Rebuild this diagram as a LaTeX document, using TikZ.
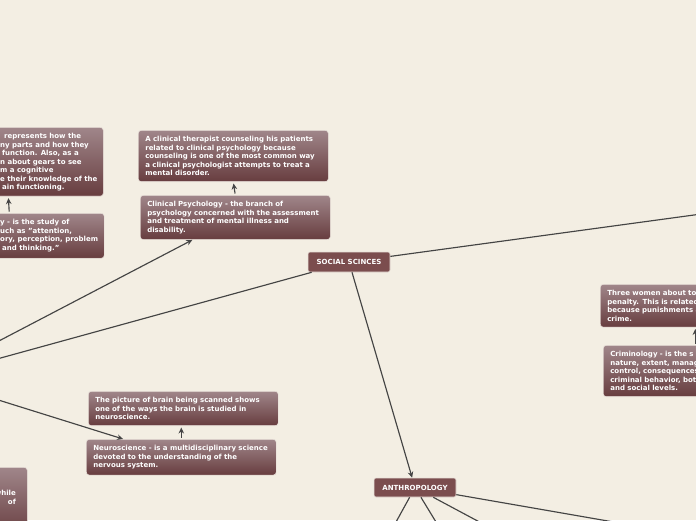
\documentclass[tikz,border=0pt]{standalone}
\usepackage{fontspec}
\setmainfont{DejaVu Sans}
\usetikzlibrary{arrows.meta,positioning}
\definecolor{paper}{HTML}{F3EEE3}
\definecolor{topicfill}{HTML}{7B4D4E}
\definecolor{notetop}{HTML}{A0868A}
\definecolor{notebot}{HTML}{693F41}
\definecolor{noteedge}{HTML}{A88C8C}
\definecolor{noteline}{HTML}{E9E1DA}
\definecolor{linkgray}{HTML}{444444}
\pgfdeclareverticalshading{notefill}{100bp}{color(0bp)=(noteedge); color(25bp)=(noteedge); color(26.5bp)=(notebot); color(75bp)=(notetop); color(100bp)=(notetop)}
\tikzset{
    every node/.style={font=\bfseries\fontsize{7}{8.5}\selectfont, text=white},
    topic node/.style={shape=rectangle, rounded corners=2pt,
    	draw=noteline, line width=0.6pt, fill=topicfill,
    	minimum width=82pt, minimum height=20pt, inner sep=0pt},
    note node/.style={shape=rectangle, rounded corners=3pt,
    	draw=noteline, line width=0.6pt, shade, shading=notefill,
    	text width=176pt, align=left, inner xsep=7pt, inner ysep=6pt, anchor=north west},
    note text/.style={align=left, inner xsep=0pt, inner ysep=6pt, anchor=north west}
}

\begin{document}
\begin{tikzpicture}[x=1pt,y=-1pt,>={Stealth[length=6pt,width=5.5pt]},
    link/.style={draw=linkgray, line width=1.15pt, ->},
    step link/.style={link, shorten <=1.5pt, shorten >=1.5pt}]
    \clip (0,0) rectangle (696,520);
    \fill[paper] (0,0) rectangle (696,520);

    % branches that leave the page
    \coordinate (psych) at (-72,378);
    \coordinate (crim) at (760,206);
    \coordinate (anthroA) at (385,542);
    \coordinate (anthroB) at (450,545);
    \coordinate (anthroC) at (530,549);
    \coordinate (anthroD) at (700,537);

    \node[topic node] (social) at (349,262) {SOCIAL SCINCES};
    \node[topic node, minimum height=19pt] (anthro) at (415,487.5) {ANTHROPOLOGY};

    \node[note node, minimum height=69pt] (gearimg) at (-87,127) {};
    \node[note text] (gearimgtext) at (0,127) {\hspace*{4pt}represents how the\\ny parts and how they\\\hspace*{2pt}function. Also, as a\\n about gears to see\\m a cognitive\\e their knowledge of the\\\hspace*{2pt}ain functioning.};
    \node[note node, minimum height=45pt] (cogdef) at (-86,213) {};
    \node[note text] (cogdeftext) at (0,213) {y - is the study of\\uch as "attention,\\ory, perception, problem\\\hspace*{2pt}and thinking."};

    \node[note node] (clinimg) at (138,130) {A clinical therapist counseling his patients\\related to clinical psychology because\\counseling is one of the most common way\\a clinical psychologist attempts to treat a\\mental disorder.};
    \node[note node] (clindef) at (140,195) {Clinical Psychology - the branch of\\psychology concerned with the assessment\\and treatment of mental illness and\\disability.};

    \node[note node] (neuroimg) at (88,391) {The picture of brain being scanned shows\\one of the ways the brain is studied in\\neuroscience.};
    \node[note node] (neurodef) at (86,439) {Neuroscience - is a multidisciplinary science\\devoted to the understanding of the\\nervous system.};

    \node[note node, minimum height=70pt] (lowdef) at (-163,467) {};
    \node[note text, anchor=north east, align=right] (lowdeftext) at (16,484) {while\\of};

    \node[note node] (crimimg) at (600,284) {Three women about to\\penalty. This is related\\because punishments a\\crime.};
    \node[note node] (crimdef) at (603,345) {Criminology - is the s\\nature, extent, manag\\control, consequences\\criminal behavior, bot\\and social levels.};

    \draw[link] (social) -- (psych);
    \draw[link] (social) -- (crim);
    \draw[link] (social) -- (anthro);
    \draw[link] (psych) -- (clindef);
    \draw[link] (psych) -- (neurodef);
    \draw[link] (anthro) -- (anthroA);
    \draw[link] (anthro) -- (anthroB);
    \draw[link] (anthro) -- (anthroC);
    \draw[link] (anthro) -- (anthroD);

    \draw[step link] (cogdef.north) -- (gearimg.south);
    \draw[step link] (clindef.north) -- (clinimg.south);
    \draw[step link] (neurodef.north) -- (neurodef.north |- neuroimg.south);
    \draw[step link] (crimimg.south |- crimdef.north) -- (crimimg.south);
\end{tikzpicture}
\end{document}
